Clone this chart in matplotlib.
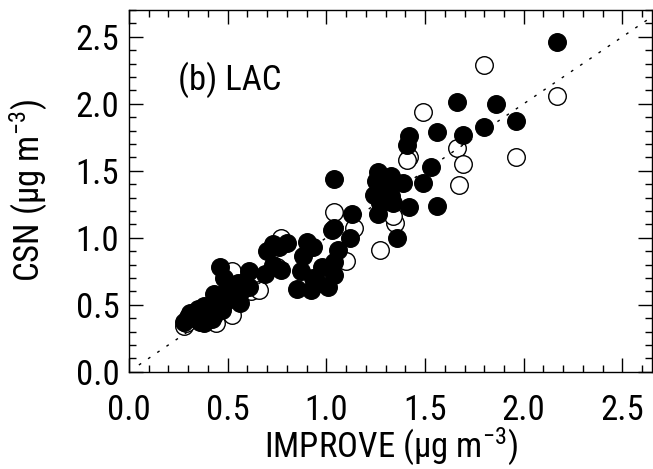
import matplotlib
matplotlib.use("Agg")
import matplotlib.pyplot as plt
from matplotlib.ticker import MultipleLocator, FormatStrFormatter

plt.rcParams['font.family'] = ['Roboto Condensed', 'Liberation Sans', 'DejaVu Sans']
plt.rcParams['mathtext.fontset'] = 'custom'
plt.rcParams['mathtext.rm'] = 'Roboto Condensed'
plt.rcParams['mathtext.it'] = 'Roboto Condensed'

# filled circles (IMPROVE, CSN)
filled_x = [2.17, 1.66, 1.86, 1.96, 1.80, 1.56, 1.69, 1.42, 1.41, 1.53, 1.26, 1.33, 1.39,
            1.49, 1.25, 1.30, 1.24, 1.33, 1.27, 1.34, 1.42, 1.56, 1.26, 1.36, 1.04, 1.13,
            1.04, 1.12, 1.03, 0.73, 0.80, 0.93, 1.06, 0.88, 1.04, 0.73, 0.69, 0.77, 0.87,
            0.98, 0.93, 1.04, 0.85, 0.92, 1.01, 0.76, 0.90, 0.96, 0.70, 0.46, 0.61, 0.55,
            0.50, 0.61, 0.43, 0.49, 0.56, 0.38, 0.31, 0.28, 0.36, 0.43, 0.33, 0.40, 0.35,
            0.45, 0.52, 0.38, 0.30, 0.42, 0.47, 0.34, 0.39, 0.48, 0.57]
filled_y = [2.46, 2.01, 2.00, 1.87, 1.83, 1.79, 1.77, 1.76, 1.69, 1.53, 1.49, 1.46, 1.41,
            1.41, 1.42, 1.38, 1.32, 1.31, 1.26, 1.26, 1.23, 1.24, 1.18, 1.00, 1.44, 1.18,
            1.07, 1.00, 1.06, 0.95, 0.96, 0.93, 0.91, 0.86, 0.82, 0.80, 0.73, 0.76, 0.75,
            0.78, 0.70, 0.72, 0.62, 0.61, 0.63, 0.93, 0.97, 0.66, 0.90, 0.78, 0.75, 0.66,
            0.63, 0.63, 0.58, 0.53, 0.51, 0.49, 0.44, 0.37, 0.37, 0.42, 0.40, 0.45, 0.47,
            0.50, 0.57, 0.36, 0.41, 0.39, 0.46, 0.43, 0.40, 0.70, 0.60]

# open circles
open_x = [1.80, 2.17, 1.49, 1.66, 1.42, 1.41, 1.96, 1.69, 1.67, 1.35, 1.34, 1.27, 1.04,
          1.14, 1.10, 0.77, 0.52, 0.62, 0.66, 0.52, 0.28, 0.44, 0.29, 0.75]
open_y = [2.29, 2.06, 1.94, 1.67, 1.60, 1.58, 1.60, 1.55, 1.39, 1.11, 1.16, 0.91, 1.19,
          1.07, 0.83, 1.00, 0.75, 0.60, 0.61, 0.42, 0.34, 0.36, 0.36, 0.78]

one_to_one = [0.05, 2.7]

fig = plt.figure(figsize=(6.53, 4.69), dpi=100)
ax = fig.add_axes([129/653, 1 - 371.7/469, 523/653, 361.7/469])

ax.scatter(open_x, open_y, s=160, facecolor='white', edgecolor='black', linewidth=1.0, zorder=2)
ax.scatter(filled_x, filled_y, s=160, facecolor='black', edgecolor='black', linewidth=1.0, zorder=3)
ax.plot(one_to_one, one_to_one, color='black', linestyle=(0, (2, 6)), linewidth=1.0, zorder=4)

ax.set_xlim(0, 2.65)
ax.set_ylim(0, 2.7)
ax.xaxis.set_major_locator(MultipleLocator(0.5))
ax.xaxis.set_minor_locator(MultipleLocator(0.1))
ax.yaxis.set_major_locator(MultipleLocator(0.5))
ax.yaxis.set_minor_locator(MultipleLocator(0.1))
ax.xaxis.set_major_formatter(FormatStrFormatter('%.1f'))
ax.yaxis.set_major_formatter(FormatStrFormatter('%.1f'))
ax.tick_params(which='both', direction='in', top=True, right=True, labelsize=25, width=1)
ax.tick_params(which='major', length=10)
ax.tick_params(which='minor', length=5)
ax.tick_params(axis='x', pad=16)
ax.tick_params(axis='y', pad=7)
for s in ax.spines.values():
    s.set_linewidth(1.0)
# the 0.0 label on the y axis sits a little above its tick
ax.yaxis.get_major_ticks()[0].label1.set_va('bottom')

ax.text(0.25, 2.18, '(b) LAC', fontsize=25, va='center', ha='left')

ax.set_xlabel(r'IMPROVE ($\mathrm{\mu}$g m$^{-3}$)', fontsize=25)
ax.set_ylabel(r'CSN ($\mathrm{\mu}$g m$^{-3}$)', fontsize=25)
ax.xaxis.set_label_coords(0.5, -0.15)
ax.xaxis.label.set_va('top')
ax.yaxis.set_label_coords(-0.151, 0.5)

fig.savefig('out.png', dpi=100)
